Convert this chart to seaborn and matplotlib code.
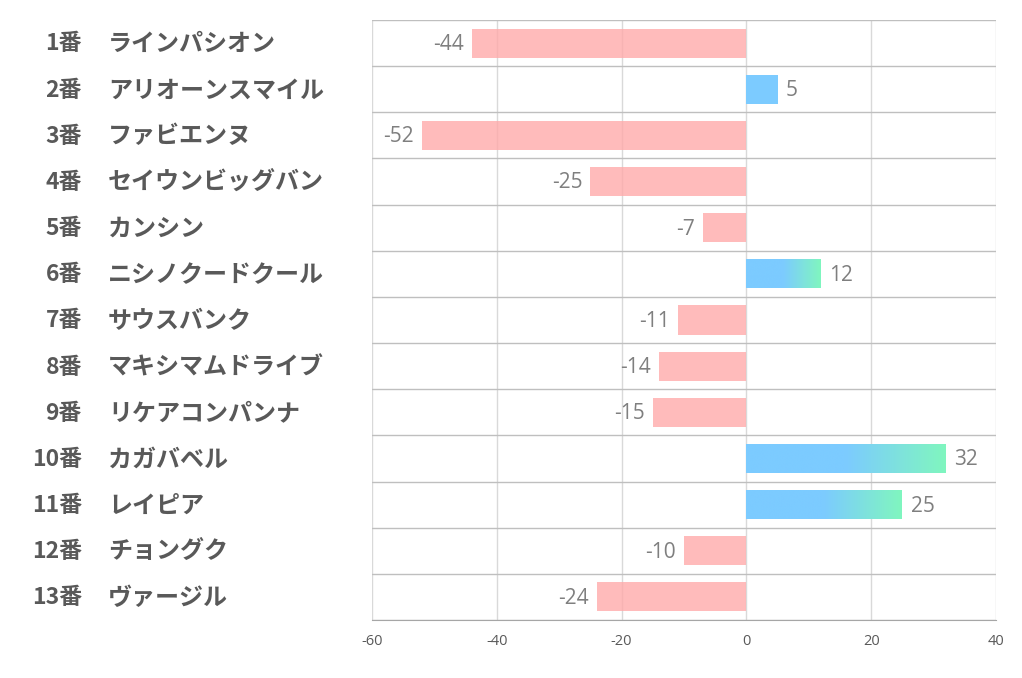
import numpy as np
import pandas as pd
import matplotlib.pyplot as plt
import seaborn as sns
from matplotlib.colors import LinearSegmentedColormap

nums = ["1番", "2番", "3番", "4番", "5番", "6番", "7番", "8番", "9番", "10番", "11番", "12番", "13番"]
names = ["ラインパシオン", "アリオーンスマイル", "ファビエンヌ", "セイウンビッグバン", "カンシン",
         "ニシノクードクール", "サウスバンク", "マキシマムドライブ", "リケアコンパンナ", "カガバベル",
         "レイピア", "チョングク", "ヴァージル"]
values = [-44, 5, -52, -25, -7, 12, -11, -14, -15, 32, 25, -10, -24]

df = pd.DataFrame({"num": nums, "name": names, "value": values})
df["key"] = df["num"] + " " + df["name"]

sns.set_style("white")
plt.rcParams["font.family"] = ["Noto Sans CJK JP", "DejaVu Sans"]
plt.rcParams["axes.unicode_minus"] = False

pink = "#ffaaaa"
blue = "#7ccbff"
green = "#80f6bf"
pal = {k: (pink if v < 0 else blue) for k, v in zip(df.key, df.value)}

fig = plt.figure(figsize=(10.22, 6.78), dpi=100)
ax = fig.add_axes([372 / 1022, 1 - 620 / 678, 624 / 1022, 600 / 678])

sns.barplot(data=df, x="value", y="key", hue="key", palette=pal, legend=False,
            orient="h", width=0.63, saturation=1, ax=ax, zorder=3)

# blue -> green fade on the longer positive bars
cmap = LinearSegmentedColormap.from_list("bg", [blue, blue, green])
grad = np.linspace(0, 1, 256).reshape(1, -1)
for p, v in zip(ax.patches, df.value):
    p.set_linewidth(0)
    if v < 0:
        p.set_alpha(0.8)
    elif v >= 10:
        y0 = p.get_y()
        h = p.get_height()
        im = ax.imshow(grad, cmap=cmap, aspect="auto", zorder=4,
                       extent=[0, v, y0 + h, y0], interpolation="bicubic")
        im.set_clip_path(p)

ax.set_xlim(-60, 40)
ax.set_ylim(12.5, -0.5)
ax.set_xticks(range(-60, 41, 20))
ax.set_yticks(range(13))
ax.set_yticklabels([])
ax.set_yticks(np.arange(-0.5, 13, 1), minor=True)
ax.tick_params(axis="y", which="both", length=0)
ax.tick_params(axis="x", length=0, labelsize=10.5, labelcolor="#595959", pad=10)
for t in ax.get_xticklabels():
    t.set_family(["Open Sans", "DejaVu Sans"])
ax.set_xlabel("")
ax.set_ylabel("")

ax.grid(axis="x", which="major", color="#d9d9d9", linewidth=1, zorder=0)
ax.grid(axis="y", which="minor", color="#bfbfbf", linewidth=1, zorder=0)
ax.set_axisbelow(True)
for s in ["top", "right", "left"]:
    ax.spines[s].set_visible(False)
ax.spines["bottom"].set_color("#a6a6a6")

for i, (n, nm, v) in enumerate(zip(nums, names, values)):
    ax.text(-0.465, i + 0.02, n, transform=ax.get_yaxis_transform(), ha="right", va="center",
            fontsize=16.5, fontweight="bold", color="#595959")
    ax.text(-0.423, i + 0.02, nm, transform=ax.get_yaxis_transform(), ha="left", va="center",
            fontsize=17.3, fontweight="bold", color="#595959")
    off = 1.3
    ax.text(v + off if v >= 0 else v - off, i + 0.03, str(v),
            ha="left" if v >= 0 else "right", va="center",
            fontsize=15, color="#7f7f7f", family=["Open Sans", "DejaVu Sans"])

fig.savefig("out.png", dpi=100)
